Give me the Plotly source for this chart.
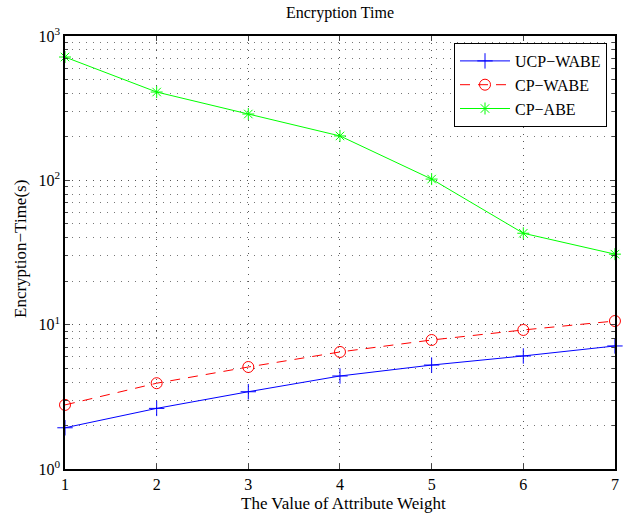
import plotly.graph_objects as go

x_vals = [1, 2, 3, 4, 5, 6, 7]
ucp_wabe = [1.93, 2.63, 3.43, 4.41, 5.25, 6.07, 7.12]
cp_wabe = [2.78, 3.93, 5.09, 6.47, 7.83, 9.19, 10.6]
cp_abe = [715, 409, 288, 203, 102, 43, 30.8]

y_tickvals = [1, 10, 100, 1000]
y_ticktext = ["10<sup>0</sup>", "10<sup>1</sup>", "10<sup>2</sup>", "10<sup>3</sup>"]

FONT = "Liberation Serif, Times New Roman, serif"
dot = "1px,6px"
W, H = 624, 514
L, R, T, B = 65, 9, 36, 45

fig = go.Figure()
fig.add_trace(go.Scatter(x=x_vals, y=ucp_wabe, name="UCP\u2212WABE", mode="lines+markers",
                         cliponaxis=False,
                         line=dict(color="#0000ff", width=1),
                         marker=dict(symbol="cross-thin-open", size=11, color="#0000ff",
                                     line=dict(color="#0000ff", width=1))))
fig.add_trace(go.Scatter(x=x_vals, y=cp_wabe, name="CP\u2212WABE", mode="lines+markers",
                         cliponaxis=False,
                         line=dict(color="#ff0000", width=1, dash="10px,8px"),
                         marker=dict(symbol="circle-open", size=11, color="#ff0000",
                                     line=dict(color="#ff0000", width=1))))
fig.add_trace(go.Scatter(x=x_vals, y=cp_abe, name="CP\u2212ABE", mode="lines+markers",
                         cliponaxis=False,
                         line=dict(color="#00ff00", width=1),
                         marker=dict(symbol="asterisk-open", size=10, color="#00ff00",
                                     line=dict(color="#00ff00", width=1))))

fig.update_layout(
    width=W, height=H,
    margin=dict(l=L, r=R, t=T, b=B, autoexpand=False),
    paper_bgcolor="white", plot_bgcolor="white",
    font=dict(family=FONT, size=16, color="black"),
    title=dict(text="Encryption Time", x=(L + W - R) / 2 / W, xanchor="center",
               y=1 - 12 / H, yanchor="middle", font=dict(size=16)),
    legend=dict(x=(607 - L) / (W - L - R), y=1 - (43 - T) / (H - T - B),
                xanchor="right", yanchor="top",
                bordercolor="black", borderwidth=1, bgcolor="white",
                font=dict(size=16), itemwidth=50, tracegroupgap=0),
    showlegend=True,
    annotations=[
        dict(text="The Value of Attribute Weight", xref="paper", yref="paper",
             x=(343 - L) / (W - L - R), y=-(503 - (H - B)) / (H - T - B),
             xanchor="center", yanchor="middle", showarrow=False, font=dict(size=17)),
        dict(text="Encryption\u2212Time(s)", xref="paper", yref="paper", textangle=-90,
             x=-(L - 20) / (W - L - R), y=1 - (249 - T) / (H - T - B),
             xanchor="center", yanchor="middle", showarrow=False, font=dict(size=17)),
    ],
)
fig.update_xaxes(
    range=[1, 7.0005], tickvals=x_vals, ticks="inside", ticklen=5, mirror="ticks",
    showline=True, linecolor="black", linewidth=1.5,
    showgrid=True, gridcolor="#555555", griddash=dot, gridwidth=1,
    zeroline=False, automargin=False,
    tickfont=dict(size=16),
)
fig.update_yaxes(
    type="log", range=[0, 3], tickvals=y_tickvals, ticktext=y_ticktext,
    ticks="inside", ticklen=5, mirror="ticks",
    showline=True, linecolor="black", linewidth=1.5,
    showgrid=True, gridcolor="#555555", griddash=dot, gridwidth=1,
    minor=dict(ticks="inside", ticklen=3, showgrid=True, gridcolor="#777777",
               griddash=dot, tickvals=[m * 10 ** d for d in range(3) for m in range(2, 10)]),
    zeroline=False, automargin=False,
    tickfont=dict(size=16),
)

fig.write_html("out.html", config={"displayModeBar": False},
               post_script="document.body.style.margin='0';")
